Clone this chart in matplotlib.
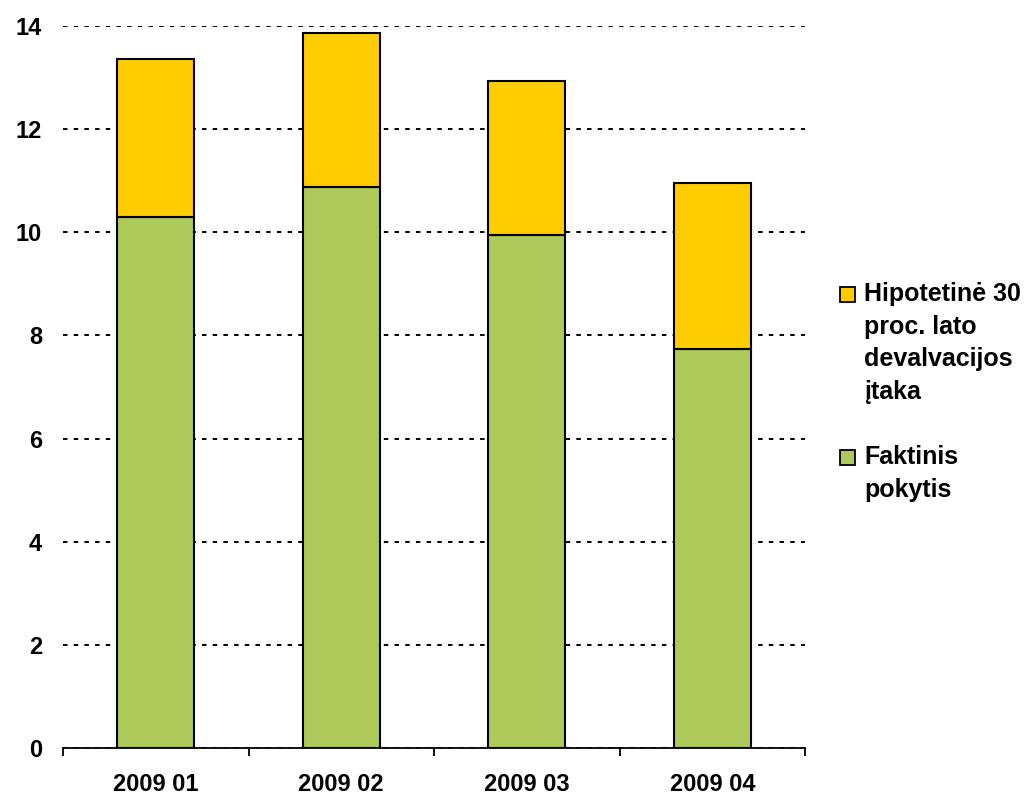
import matplotlib.pyplot as plt
from matplotlib.patches import Rectangle

# quarters and stacked components
periods = ["2009 01", "2009 02", "2009 03", "2009 04"]
faktinis = [10.30, 10.88, 9.95, 7.74]
hipotetine = [3.06, 2.98, 2.98, 3.22]
series_names = ["Hipotetinė 30\nproc. lato\ndevalvacijos\nįtaka", "Faktinis\npokytis"]
yticks = [0, 2, 4, 6, 8, 10, 12, 14]

green = "#ACC95A"
yellow = "#FFCC00"

plt.rcParams["font.family"] = ["Liberation Sans", "DejaVu Sans"]
plt.rcParams["font.weight"] = "bold"

fig = plt.figure(figsize=(10.3, 7.96), dpi=100)
ax = fig.add_axes([63 / 1030, 1 - 748 / 796, (805 - 63) / 1030, (748 - 26) / 796])

x = range(len(periods))
ax.bar(x, faktinis, width=0.415, color=green, edgecolor="black", linewidth=1.5, zorder=3)
ax.bar(x, hipotetine, width=0.415, bottom=faktinis, color=yellow,
       edgecolor="black", linewidth=1.5, zorder=3)

ax.set_xlim(-0.5, 3.5)
ax.set_ylim(0, 14)
ax.set_yticks(yticks)
ax.set_yticklabels([str(v) for v in yticks], fontsize=17, fontweight="bold")
ax.set_xticks(list(x))
ax.set_xticklabels(periods, fontsize=17, fontweight="bold")
ax.set_xticks([-0.5, 0.5, 1.5, 2.5, 3.5], minor=True)
ax.tick_params(axis="x", which="major", length=0, pad=18)
ax.tick_params(axis="x", which="minor", length=6, width=1.3, direction="out")
ax.tick_params(axis="y", length=0, pad=15)

for side in ("top", "right", "left"):
    ax.spines[side].set_visible(False)
ax.spines["bottom"].set_linewidth(1.3)
ax.spines["bottom"].set_zorder(4)

ax.yaxis.grid(True, color="black", linestyle=(0, (2.3, 3.2)), linewidth=1.4)
ax.set_axisbelow(True)

# legend drawn at the right side, square aligned with the first line of text
legend_items = [(series_names[0], yellow, 287), (series_names[1], green, 450)]
for label, col, top in legend_items:
    fig.patches.append(Rectangle((840 / 1030, 1 - (top + 15) / 796), 15 / 1030, 15 / 796,
                                 transform=fig.transFigure, facecolor=col,
                                 edgecolor="black", linewidth=1.3))
    fig.text(864 / 1030, 1 - (top - 5) / 796, label, fontsize=18, fontweight="bold",
             va="top", ha="left", linespacing=1.45)

fig.savefig("out.png", dpi=100)
